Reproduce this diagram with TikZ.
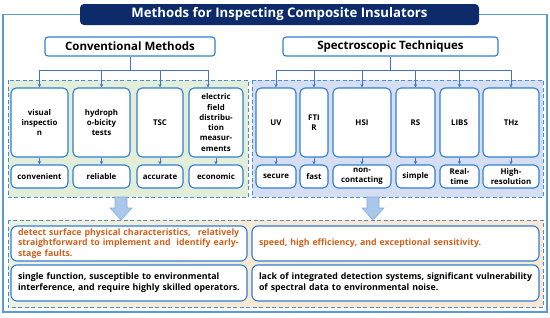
\documentclass[tikz,border=0pt]{standalone}
\usepackage{fontspec}
\setmainfont{Open Sans}
\usetikzlibrary{arrows.meta,calc}
\definecolor{navy}{HTML}{0D2B6B}
\definecolor{boxblue}{HTML}{2F7ED3}
\definecolor{lineblue}{HTML}{4472C4}
\definecolor{frameblue}{HTML}{5B9BD5}
\definecolor{dashblue}{HTML}{4A8CD6}
\definecolor{greenbg}{HTML}{E3EED8}
\definecolor{bluebg}{HTML}{D6DFF2}
\definecolor{peachL}{HTML}{EEF2DD}
\definecolor{peachR}{HTML}{FCE8D1}
\definecolor{orangetxt}{HTML}{D0611C}
\definecolor{arrowfill}{HTML}{A9C7EA}
\definecolor{arrowdraw}{HTML}{86AEDD}
\hfuzz=100pt
\begin{document}
\begin{tikzpicture}[x=1pt,y=-1pt,
  mbox/.style={draw=boxblue, line width=1.1pt, rounded corners=5pt, fill=white, align=center, inner sep=1pt, font=\bfseries\fontsize{7.9}{10.3}\selectfont},
  catbox/.style={draw=boxblue, line width=1.1pt, rounded corners=3pt, fill=white, inner sep=0pt, font=\bfseries\fontsize{11.5}{13}\selectfont},
  tbox/.style={draw=boxblue, line width=1.1pt, rounded corners=6pt, fill=white, inner xsep=7pt, inner ysep=0pt, align=left, font=\bfseries\fontsize{8.8}{10.7}\selectfont},
  conn/.style={draw=lineblue, line width=0.9pt},
  arr/.style={conn, -{Stealth[length=3.5pt,width=3.5pt]}},
  region/.style={draw=dashblue, line width=0.9pt, dash pattern=on 4pt off 2.5pt},
  barrow/.style={fill=arrowfill, draw=arrowdraw, line width=0.6pt}
]
\useasboundingbox (0,0) rectangle (550,317);

% regions
\fill[greenbg] (8,80) rectangle (248,197);
\draw[region] (8,80) rectangle (248,197);
\fill[bluebg] (252,80) rectangle (543,197);
\draw[region] (252,80) rectangle (543,197);
\shade[left color=peachL, right color=peachR, middle color=peachR] (8,220) rectangle (543,307);
\draw[region] (8,220) rectangle (543,307);

% title and frame
\node[fill=navy, rounded corners=4pt, minimum width=399, minimum height=21, inner sep=0pt, text=white, font=\bfseries\fontsize{13.2}{16}\selectfont] (title) at (279.5,14.5) {Methods for Inspecting Composite Insulators};
\coordinate (fTL) at (3,14.5);
\coordinate (fBL) at (3,312);
\coordinate (fBR) at (547,312);
\coordinate (fTR) at (547,14.5);
\draw[frameblue, line width=1.1pt] (title.west) -- (fTL) -- (fBL) -- (fBR) -- (fTR) -- (title.east);

% categories
\node[catbox, minimum width=170, minimum height=19] (conv) at (130,46.5) {Conventional Methods};
\node[catbox, minimum width=215, minimum height=19] (spec) at (390.5,46.5) {Spectroscopic Techniques};

% method boxes
\node[mbox, minimum width=57, minimum height=69] (vis) at (39.5,122.5) {visual\\inspectio\\n};
\node[mbox, minimum width=57, minimum height=69] (hyd) at (101.5,122.5) {hydroph\\o-bicity\\tests};
\node[mbox, minimum width=46, minimum height=69] (tsc) at (160,122.5) {TSC};
\node[mbox, minimum width=54, minimum height=69] (ele) at (216,122.5) {electric\\field\\distribu-\\tion\\measur-\\ements};
\node[mbox, minimum width=40, minimum height=69] (uv) at (276,122.5) {UV};
\node[mbox, minimum width=28, minimum height=69] (ftir) at (314,122.5) {FTI\\R};
\node[mbox, minimum width=58, minimum height=69] (hsi) at (362,122.5) {HSI};
\node[mbox, minimum width=39, minimum height=69] (rs) at (415.5,122.5) {RS};
\node[mbox, minimum width=39, minimum height=69] (libs) at (459.5,122.5) {LIBS};
\node[mbox, minimum width=56, minimum height=69] (thz) at (511,122.5) {THz};

% property boxes
\node[mbox, minimum width=57, minimum height=23] (vis2) at (39.5,176.5) {convenient};
\node[mbox, minimum width=57, minimum height=23] (hyd2) at (101.5,176.5) {reliable};
\node[mbox, minimum width=46, minimum height=23] (tsc2) at (160,176.5) {accurate};
\node[mbox, minimum width=54, minimum height=23] (ele2) at (216,176.5) {economic};
\node[mbox, minimum width=40, minimum height=23] (uv2) at (276,176.5) {secure};
\node[mbox, minimum width=28, minimum height=23] (ftir2) at (314,176.5) {fast};
\node[mbox, minimum width=58, minimum height=23] (hsi2) at (362,176.5) {non-\\contacting};
\node[mbox, minimum width=39, minimum height=23] (rs2) at (415.5,176.5) {simple};
\node[mbox, minimum width=39, minimum height=23] (libs2) at (459.5,176.5) {Real-\\time};
\node[mbox, minimum width=56, minimum height=23] (thz2) at (511,176.5) {High-\\resolution};

% tree connectors
\coordinate (cj) at (130,70);
\coordinate (sj) at (390.5,70);
\draw[conn] (conv.south) -- (cj);
\draw[conn] (spec.south) -- (sj);
\foreach \n in {vis,hyd,tsc}{\draw[arr] (cj) -| (\n.north);}
\draw[arr] (cj) -| ($(ele.north)+(-8,0)$);
\foreach \n in {uv,ftir,hsi,rs,libs,thz}{\draw[arr] (sj) -| (\n.north);}
\foreach \n in {vis,hyd,tsc,ele,uv,ftir,hsi,rs,libs,thz}{\draw[arr] (\n.south) -- (\n2.north);}

% block arrows
\draw[barrow] (115,197) -- (127,197) -- (127,208) -- (132,208) -- (121,220) -- (110,208) -- (115,208) -- cycle;
\draw[barrow] (367,197) -- (379,197) -- (379,208) -- (384,208) -- (373,220) -- (362,208) -- (367,208) -- cycle;

% bottom text boxes
\node[tbox, minimum width=236, minimum height=35, text width=222, text=orangetxt] (lp) at (129,243.5) {\mbox{detect surface physical characteristics,\hspace{0.8em}relatively}\\\mbox{straightforward to implement and\ \ identify early-}\\\mbox{stage faults.}};
\node[tbox, minimum width=236, minimum height=36, text width=222] (lc) at (129,283) {\mbox{single function, susceptible to environmental}\\\mbox{interference, and require highly skilled operators.}};
\node[tbox, minimum width=287, minimum height=35, text width=273, text=orangetxt] (rp) at (395.5,243.5) {\mbox{speed, high efficiency, and exceptional sensitivity.}};
\node[tbox, minimum width=287, minimum height=36, text width=273] (rc) at (395.5,283) {\mbox{lack of integrated detection systems, significant vulnerability}\\\mbox{of spectral data to environmental noise.}};
\end{tikzpicture}
\end{document}
